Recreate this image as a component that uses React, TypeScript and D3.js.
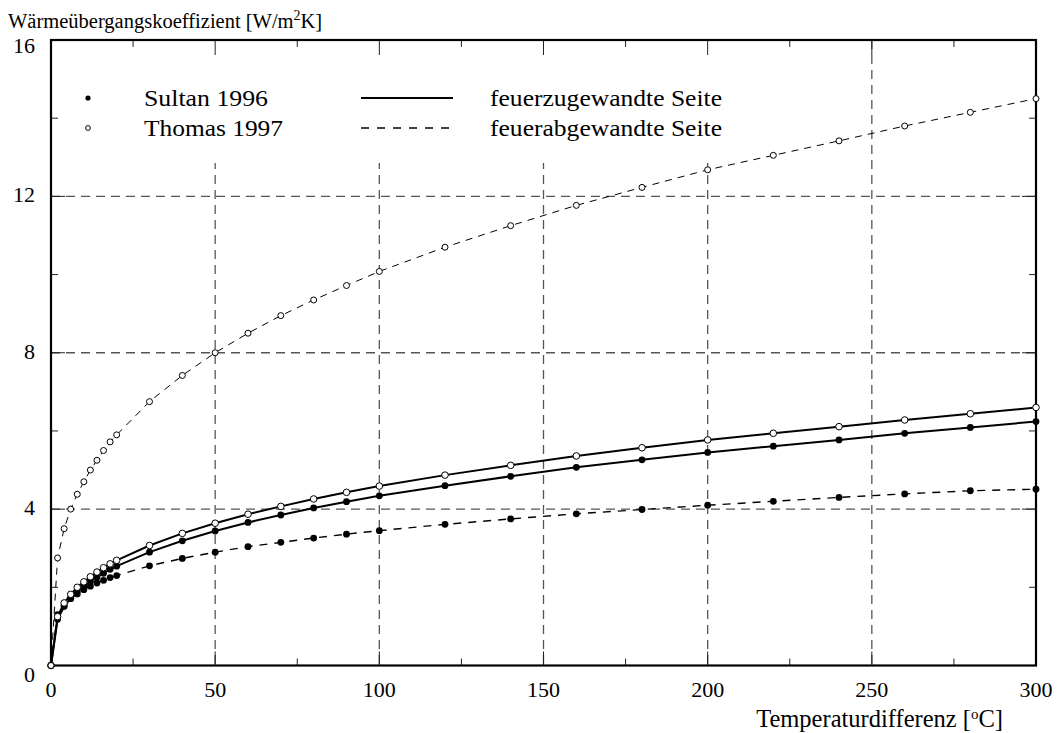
import React from "react";
import * as d3 from "d3";

const temps = [0, 2, 4, 6, 8, 10, 12, 14, 16, 18, 20, 30, 40, 50, 60, 70, 80, 90, 100, 120, 140, 160, 180, 200, 220, 240, 260, 280, 300];

const thomasFire = [0, 1.25, 1.6, 1.82, 2.0, 2.14, 2.27, 2.39, 2.5, 2.6, 2.69, 3.07, 3.38, 3.64, 3.87, 4.07, 4.26, 4.43, 4.59, 4.87, 5.12, 5.36, 5.57, 5.77, 5.94, 6.11, 6.28, 6.44, 6.6];
const sultanFire = [0, 1.18, 1.51, 1.72, 1.89, 2.02, 2.15, 2.26, 2.36, 2.46, 2.54, 2.9, 3.19, 3.44, 3.66, 3.85, 4.03, 4.19, 4.34, 4.6, 4.84, 5.07, 5.26, 5.45, 5.61, 5.77, 5.94, 6.09, 6.24];
const thomasAway = [0, 2.75, 3.5, 4.0, 4.38, 4.7, 5.0, 5.25, 5.5, 5.72, 5.9, 6.75, 7.42, 8.0, 8.5, 8.95, 9.35, 9.72, 10.08, 10.7, 11.25, 11.77, 12.23, 12.68, 13.05, 13.42, 13.8, 14.15, 14.5];
const sultanAway = [0, 1.3, 1.54, 1.71, 1.83, 1.94, 2.03, 2.11, 2.18, 2.25, 2.3, 2.55, 2.74, 2.9, 3.04, 3.15, 3.26, 3.36, 3.45, 3.61, 3.75, 3.88, 3.99, 4.1, 4.2, 4.3, 4.39, 4.47, 4.51];

const xTicks = [0, 50, 100, 150, 200, 250, 300];
const xMinor = [25, 75, 125, 175, 225, 275];
const yTicks = [0, 4, 8, 12, 16];
const yMinor = [2, 6, 10, 14];

const W = 1057, H = 733;
const L = 51, R = 1036, T = 40, B = 665.5;
const FONT = "'Liberation Serif', Tinos, 'Nimbus Roman', 'DejaVu Serif', serif";
const txt: React.CSSProperties = { fontFamily: FONT, fontSize: 22 };
const legTxt: React.CSSProperties = { fontFamily: FONT, fontSize: 24 };

export default function App() {
  const x = d3.scaleLinear().domain([0, 300]).range([L, R]);
  const y = d3.scaleLinear().domain([0, 16]).range([B, T]);
  const line = (vals: number[]) =>
    d3.line<number>().x((_, i) => x(temps[i])).y((v) => y(v))(vals) || "";

  const gridColor = "#555";
  const legendBottom = 163;
  const legendRight = 740;

  const yLabelOffset = (v: number) => (v === 16 ? 8 : v === 0 ? 11 : 1);

  return (
    <div style={{ position: "absolute", left: 0, top: 0 }}>
      <svg width={W} height={H} style={{ display: "block", background: "#fff" }}>
        {/* grid */}
        {yTicks.filter((v) => v > 0 && v < 16).map((v) => (
          <line key={"gy" + v} x1={L} x2={R} y1={y(v)} y2={y(v)} stroke={gridColor} strokeWidth={1.3} strokeDasharray="9,6" />
        ))}
        {xTicks.filter((v) => v > 0 && v < 300).map((v) => (
          <line key={"gx" + v} x1={x(v)} x2={x(v)} y1={T} y2={B} stroke={gridColor} strokeWidth={1.3} strokeDasharray="9,6" />
        ))}
        {/* legend background mask */}
        <rect x={L} y={T} width={legendRight - L} height={legendBottom - T} fill="#fff" />

        {/* ticks */}
        {xMinor.map((v) => (
          <g key={"xm" + v}>
            <line x1={x(v)} x2={x(v)} y1={B} y2={B - 7} stroke="#222" strokeWidth={1} />
            <line x1={x(v)} x2={x(v)} y1={T} y2={T + 7} stroke="#222" strokeWidth={1} />
          </g>
        ))}
        {xTicks.filter((v) => v > 0 && v < 300).map((v) => (
          <g key={"xM" + v}>
            <line x1={x(v)} x2={x(v)} y1={B} y2={B - 14} stroke="#222" strokeWidth={1} />
            <line x1={x(v)} x2={x(v)} y1={T} y2={T + 15} stroke="#222" strokeWidth={1} />
          </g>
        ))}
        {yMinor.map((v) => (
          <g key={"ym" + v}>
            <line x1={L} x2={L + 7} y1={y(v)} y2={y(v)} stroke="#222" strokeWidth={1} />
            <line x1={R} x2={R - 7} y1={y(v)} y2={y(v)} stroke="#222" strokeWidth={1} />
          </g>
        ))}
        {yTicks.filter((v) => v > 0 && v < 16).map((v) => (
          <g key={"yM" + v}>
            <line x1={L} x2={L + 14} y1={y(v)} y2={y(v)} stroke="#222" strokeWidth={1} />
            <line x1={R} x2={R - 14} y1={y(v)} y2={y(v)} stroke="#222" strokeWidth={1} />
          </g>
        ))}

        {/* frame */}
        <rect x={L} y={T} width={R - L} height={B - T} fill="none" stroke="#000" strokeWidth={2.2} />

        {/* curves */}
        <path d={line(thomasAway)} fill="none" stroke="#000" strokeWidth={1} strokeDasharray="7,6" />
        <path d={line(sultanAway)} fill="none" stroke="#000" strokeWidth={1.4} strokeDasharray="8,7" />
        <path d={line(thomasFire)} fill="none" stroke="#000" strokeWidth={2} />
        <path d={line(sultanFire)} fill="none" stroke="#000" strokeWidth={2} />

        {/* markers */}
        {sultanAway.map((v, i) => (
          <circle key={"sa" + i} cx={x(temps[i])} cy={y(v)} r={3.4} fill="#000" />
        ))}
        {sultanFire.map((v, i) => (
          <circle key={"sf" + i} cx={x(temps[i])} cy={y(v)} r={3.4} fill="#000" />
        ))}
        {thomasFire.map((v, i) => (
          <circle key={"tf" + i} cx={x(temps[i])} cy={y(v)} r={3.3} fill="#fff" stroke="#000" strokeWidth={1} />
        ))}
        {thomasAway.map((v, i) => (
          <circle key={"ta" + i} cx={x(temps[i])} cy={y(v)} r={3} fill="#fff" stroke="#000" strokeWidth={1} />
        ))}

        {/* tick labels */}
        {xTicks.map((v) => (
          <text key={"xl" + v} x={x(v)} y={697} style={txt} textAnchor="middle">{v}</text>
        ))}
        {yTicks.map((v) => (
          <text key={"yl" + v} x={35} y={y(v) + yLabelOffset(v)} style={txt} textAnchor="end" dominantBaseline="middle">{v}</text>
        ))}

        {/* axis titles */}
        <text x={8} y={28} style={{ fontFamily: FONT, fontSize: 20.5 }}>
          Wärmeübergangskoeffizient [W/m<tspan style={{ fontSize: 14 }} dy={-8}>2</tspan><tspan dy={8}>K]</tspan>
        </text>
        <text x={1003} y={727} style={{ fontFamily: FONT, fontSize: 24.5 }} textAnchor="end">
          Temperaturdifferenz [<tspan style={{ fontSize: 15 }} dy={-8}>o</tspan><tspan dy={8}>C]</tspan>
        </text>

        {/* legend */}
        <circle cx={88} cy={98} r={2.6} fill="#000" />
        <text x={144} y={106} style={legTxt} textLength={124} lengthAdjust="spacingAndGlyphs">Sultan 1996</text>
        <circle cx={88} cy={128} r={2.4} fill="#fff" stroke="#000" strokeWidth={1} />
        <text x={144} y={136} style={legTxt} textLength={139} lengthAdjust="spacingAndGlyphs">Thomas 1997</text>
        <line x1={361} x2={453} y1={98} y2={98} stroke="#000" strokeWidth={2} />
        <line x1={361} x2={453} y1={128} y2={128} stroke="#000" strokeWidth={1.3} strokeDasharray="8,8" />
        <text x={490} y={106} style={legTxt} textLength={232} lengthAdjust="spacingAndGlyphs">feuerzugewandte Seite</text>
        <text x={490} y={136} style={legTxt} textLength={232} lengthAdjust="spacingAndGlyphs">feuerabgewandte Seite</text>
      </svg>
    </div>
  );
}
